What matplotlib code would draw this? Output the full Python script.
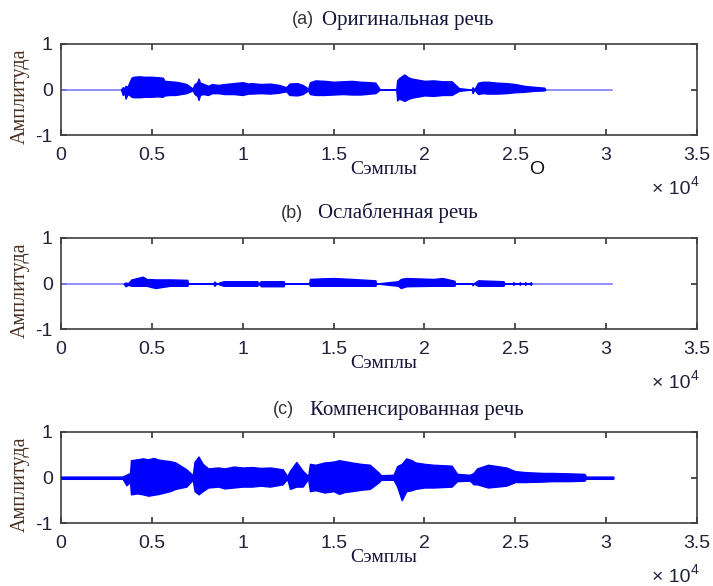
import matplotlib
matplotlib.use('Agg')
import matplotlib.pyplot as plt

W, H = 713, 586

# ---- data: speech envelopes (samples, upper, lower) ----
a_x  = [3300, 3400, 3500, 3550, 3650, 3700, 3880, 4000, 4300, 4600, 5000, 5300, 5600, 5700,
        6000, 6300, 6600, 6900, 7250,
        7350, 7500, 7570, 7650, 7800, 8100, 8300, 8650, 9000, 9500, 10000, 10300, 10500,
        11000, 11500, 12000, 12400,
        12570, 13000, 13300, 13600, 13700, 14000, 14500, 15000, 15500, 16000, 16500, 17000,
        17300, 17550,
        18450, 18500, 18600, 18900, 19100, 19300, 20000, 20500, 21000, 21500, 21900, 22600,
        22650, 22750,
        22950, 23200, 23500, 24000, 24500, 25000, 25500, 26000, 26600, 26650]
a_up = [0, 0.05, 0.03, 0.08, 0.06, 0.10, 0.26, 0.28, 0.29, 0.28, 0.28, 0.27, 0.26, 0.19,
        0.18, 0.17, 0.15, 0.12, 0.02,
        0.12, 0.16, 0.24, 0.15, 0.13, 0.08, 0.12, 0.10, 0.12, 0.14, 0.16, 0.13, 0.14,
        0.12, 0.13, 0.10, 0.05,
        0.13, 0.14, 0.10, 0.02, 0.16, 0.20, 0.19, 0.17, 0.18, 0.19, 0.17, 0.16,
        0.15, 0.0,
        0.0, 0.20, 0.25, 0.33, 0.27, 0.24, 0.19, 0.20, 0.18, 0.18, 0.03, 0.0,
        0.05, 0.0,
        0.15, 0.17, 0.17, 0.15, 0.14, 0.12, 0.08, 0.06, 0.04, 0.0]
a_lo = [0, -0.12, -0.08, -0.20, -0.12, -0.10, -0.16, -0.17, -0.17, -0.16, -0.16, -0.15, -0.16, -0.13,
        -0.12, -0.12, -0.10, -0.08, -0.02,
        -0.10, -0.14, -0.23, -0.12, -0.10, -0.12, -0.08, -0.08, -0.10, -0.10, -0.12, -0.09, -0.09,
        -0.08, -0.09, -0.07, -0.04,
        -0.12, -0.13, -0.10, -0.02, -0.10, -0.12, -0.12, -0.11, -0.10, -0.11, -0.11, -0.09,
        -0.08, 0.0,
        0.0, -0.24, -0.20, -0.25, -0.21, -0.18, -0.13, -0.14, -0.12, -0.12, -0.03, 0.0,
        -0.08, 0.0,
        -0.10, -0.08, -0.09, -0.09, -0.08, -0.06, -0.05, -0.03, -0.02, 0.0]

b_x  = [3450, 3550, 3700, 3880, 4500, 4700, 5200, 5500, 6000, 6950, 7000,
        8350, 8450, 8550, 8950, 10800, 10850, 11000, 12250, 12300,
        13650, 13700, 14200, 15000, 16000, 17300, 17350, 18550, 18700, 19000, 20500, 21000,
        21650, 21700, 22600, 22650, 22700, 22950, 24350, 24400,
        24850, 24900, 24950, 25200, 25250, 25300, 25500, 25550, 25600,
        25800, 25850, 25900]
b_up = [0, 0.02, 0.01, 0.09, 0.15, 0.10, 0.09, 0.09, 0.09, 0.08, 0,
        0, 0.04, 0, 0.05, 0.05, 0, 0.05, 0.05, 0,
        0, 0.10, 0.11, 0.12, 0.10, 0.07, 0, 0.05, 0.10, 0.12, 0.10, 0.12,
        0.06, 0, 0, 0.0, 0, 0.07, 0.05, 0,
        0, 0.03, 0, 0, 0.03, 0, 0, 0.03, 0,
        0, 0.03, 0]
b_lo = [0, -0.06, -0.03, -0.05, -0.05, -0.05, -0.10, -0.08, -0.05, -0.05, 0,
        0, -0.05, 0, -0.05, -0.05, 0, -0.06, -0.06, 0,
        0, -0.05, -0.05, -0.05, -0.05, -0.05, 0, -0.05, -0.10, -0.06, -0.05, -0.05,
        -0.05, 0, 0, -0.04, 0, -0.05, -0.05, 0,
        0, -0.03, 0, 0, -0.03, 0, 0, -0.03, 0,
        0, -0.03, 0]

c_x  = [0, 3400, 3420, 3600, 3800, 3850, 4200, 4500, 4800, 5100, 5400, 5600, 6000, 6300, 6900, 7250,
        7350, 7570, 7800, 8100, 8650, 9000, 9500, 10000, 10500, 11000, 11500, 12200, 12450,
        12600, 12950, 13300, 13600, 13700, 14000, 14500, 15000, 15300, 15600, 16000, 16500, 17000, 17500,
        17600, 18300, 18500, 18750, 19000, 19300, 19500, 20000, 20500, 21000, 21500, 21800, 22500,
        22700, 22900, 23500, 24000, 24500, 25000, 25500, 26500, 27000, 28000, 28800, 28900, 30400]
c_up = [0.02, 0.02, 0.03, 0.06, 0.10, 0.38, 0.40, 0.42, 0.40, 0.43, 0.39, 0.38, 0.36, 0.33, 0.18, 0.05,
        0.35, 0.46, 0.30, 0.20, 0.22, 0.20, 0.24, 0.22, 0.23, 0.21, 0.22, 0.18, 0.03,
        0.15, 0.34, 0.15, 0.03, 0.30, 0.28, 0.33, 0.35, 0.38, 0.36, 0.33, 0.30, 0.28, 0.10,
        0.05, 0.06, 0.25, 0.30, 0.42, 0.38, 0.33, 0.30, 0.28, 0.27, 0.26, 0.08, 0.06,
        0.10, 0.20, 0.28, 0.25, 0.22, 0.14, 0.12, 0.10, 0.10, 0.09, 0.08, 0.02, 0.02]
c_lo = [-0.02, -0.02, -0.05, -0.17, -0.10, -0.37, -0.35, -0.37, -0.40, -0.38, -0.36, -0.34, -0.30, -0.25, -0.20, -0.05,
        -0.30, -0.37, -0.30, -0.22, -0.20, -0.24, -0.22, -0.20, -0.20, -0.18, -0.20, -0.15, -0.03,
        -0.25, -0.20, -0.20, -0.03, -0.30, -0.28, -0.33, -0.30, -0.36, -0.32, -0.30, -0.27, -0.25, -0.10,
        -0.05, -0.05, -0.20, -0.50, -0.30, -0.28, -0.25, -0.22, -0.22, -0.21, -0.20, -0.08, -0.07,
        -0.15, -0.15, -0.22, -0.20, -0.18, -0.10, -0.10, -0.09, -0.08, -0.08, -0.07, -0.02, -0.02]

baseline_end = 30300
xticks = [0, 5000, 10000, 15000, 20000, 25000, 30000, 35000]
xtick_labels = ['0', '0.5', '1', '1.5', '2', '2.5', '3', '3.5']
yticks = [-1, 0, 1]
ytick_labels = ['-1', '0', '1']
tags = ['(a)', '(b)', '(c)']
titles = ['Оригинальная речь', 'Ослабленная речь', 'Компенсированная речь']
ylabel = 'Амплитуда'
xlabel = 'Сэмплы'

panels = [(a_x, a_up, a_lo), (b_x, b_up, b_lo), (c_x, c_up, c_lo)]

# ---- layout (pixel geometry) ----
ax_left, ax_right = 61, 697
ax_tops = [44, 238, 432]
ax_h = 91
tag_px = [(292, 20), (281, 213), (273, 410)]
title_px = [(322, 20), (318, 213), (310, 410)]

SANS = 'Liberation Sans'
SERIF = 'Liberation Serif'
tick_col = '#22223a'
title_col = '#15153a'
ylab_col = '#4a2e1e'

fig = plt.figure(figsize=(W / 100, H / 100), dpi=100)
fig.patch.set_facecolor('white')

for i, (xs, up, lo) in enumerate(panels):
    top = ax_tops[i]
    ax = fig.add_axes([ax_left / W, 1 - (top + ax_h) / H, (ax_right - ax_left) / W, ax_h / H])
    if i == 2:
        ax.plot([0, baseline_end], [0, 0], color='#0000ff', lw=2.2, zorder=2)
    else:
        ax.plot([0, baseline_end], [0, 0], color='#7b7bff', lw=1.2, zorder=2)
    ax.fill_between(xs, lo, up, color='#0000ff', lw=1.0, edgecolor='#0000ff', zorder=3)
    ax.set_xlim(0, 35000)
    ax.set_ylim(-1, 1)
    ax.set_xticks(xticks)
    ax.set_xticklabels(xtick_labels)
    ax.set_yticks(yticks)
    ax.set_yticklabels(ytick_labels)
    ax.tick_params(direction='in', length=4, width=1.2, top=True, right=True,
                   labelsize=14, colors='#333333', labelcolor=tick_col)
    ax.tick_params(axis='x', pad=9)
    ax.tick_params(axis='y', pad=6)
    for lab in ax.get_xticklabels() + ax.get_yticklabels():
        lab.set_family(SANS)
    for s in ax.spines.values():
        s.set_color('#404040')
        s.set_linewidth(1.2)

    bottom = top + ax_h
    # titles
    fig.text(tag_px[i][0] / W, 1 - tag_px[i][1] / H, tags[i], family=SANS, fontsize=13,
             color='#333333', ha='left', va='center')
    fig.text(title_px[i][0] / W, 1 - title_px[i][1] / H, titles[i], family=SERIF, fontsize=15,
             color=title_col, ha='left', va='center')
    # y label
    fig.text(20.5 / W, 1 - (top + 52) / H, ylabel, family=SERIF, fontsize=14.5,
             color=ylab_col, rotation=90, ha='center', va='center')
    # x label
    fig.text(384 / W, 1 - (bottom + 35) / H, xlabel, family=SERIF, fontsize=14,
             color=title_col, ha='center', va='center')
    # exponent
    fig.text(690 / W, 1 - (bottom + 55) / H, '× 10', family=SANS, fontsize=14,
             color=tick_col, ha='right', va='center')
    fig.text(691 / W, 1 - (bottom + 47) / H, '4', family=SANS, fontsize=10,
             color=tick_col, ha='left', va='center')

# stray letter in panel (a)
fig.text(537 / W, 1 - 170 / H, 'O', family=SANS, fontsize=14, color='#111111',
         ha='center', va='center')

fig.savefig('out.png', dpi=100)
